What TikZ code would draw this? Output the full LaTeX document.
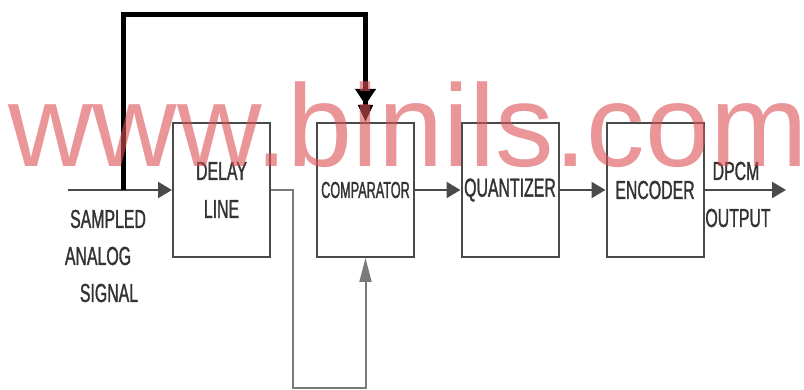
\documentclass[tikz,border=0pt]{standalone}
\usepackage{fontspec}
\setmainfont{Liberation Sans}
\newfontfamily\narrowsf[FakeStretch=0.61,FakeBold=1.2]{Liberation Sans}
\newfontfamily\narrowersf[FakeStretch=0.55,FakeBold=1.2]{Liberation Sans}
\usetikzlibrary{arrows.meta}
\definecolor{boxgray}{HTML}{4A4A4A}
\definecolor{linegray}{HTML}{7A7A7A}
\definecolor{textgray}{HTML}{333333}
\definecolor{wmpink}{HTML}{DC5055}
\begin{document}
\begin{tikzpicture}[x=1pt,y=-1pt,
  blockbox/.style={draw=boxgray, line width=2pt, minimum width=97pt, minimum height=134pt,
    inner sep=0pt, text=textgray, align=center,
    font=\narrowsf\fontsize{26}{38}\selectfont},
  lbl/.style={text=textgray, inner sep=0pt, font=\narrowsf\fontsize{26}{28}\selectfont},
  sig/.style={draw=boxgray, line width=2.5pt, -{Triangle[length=14pt,width=16pt]}},
  fbthick/.style={draw=black, line width=5pt,
    -{Triangle[length=16pt,width=20pt]Triangle[length=17pt,width=14pt]}},
  fbthin/.style={draw=linegray, line width=2pt, -{Triangle[length=24pt,width=12pt]}},
  wmark/.style={anchor=base west, inner sep=0pt, text=wmpink, opacity=0.6,
    font=\fontsize{117}{117}\selectfont}
]
\useasboundingbox (0,0) rectangle (804,390);

% blocks
\node[blockbox] (delay) at (221.5,190) {DELAY\\LINE};
\node[blockbox] (comp) at (365.5,190) {\narrowersf\fontsize{23}{25}\selectfont COMPARATOR};
\node[blockbox] (quant) at (510,190) {QUANTIZER};
\node[blockbox] (enc) at (655,190) {ENCODER};

% coordinates
\coordinate (in) at (68,190);
\coordinate (split) at (123,190);
\coordinate (top) at (123,15);
\coordinate (dtap) at (293,190);
\coordinate (dlow) at (293,388);
\coordinate (out) at (786,190);

% connectors
\draw[sig] (in) -- (delay.west);
\draw[fbthick] (split) -- (top) -| (comp.north);
\draw[fbthin] (delay.east) -- (dtap) -- (dlow) -| (comp.south);
\draw[sig] (comp.east) -- (quant.west);
\draw[sig] (quant.east) -- (enc.west);
\draw[sig] (enc.east) -- (out);

% labels
\node[lbl] (s1) at (108,219) {SAMPLED};
\node[lbl] (s2) at (98,256) {ANALOG};
\node[lbl] (s3) at (109,293) {SIGNAL};
\node[lbl] (o1) at (736,171) {DPCM};
\node[lbl] (o2) at (738,218) {OUTPUT};

% watermark
\node[wmark] (wm) at (8,167) {www.binils.com};
\end{tikzpicture}
\end{document}
